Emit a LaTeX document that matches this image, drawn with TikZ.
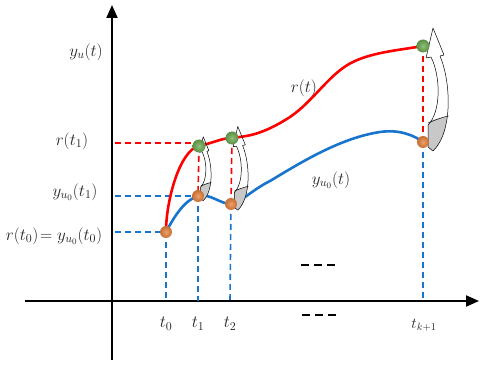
\documentclass[tikz,border=0pt]{standalone}
\usepackage{fix-cm}
\usetikzlibrary{arrows.meta,shadings}
\definecolor{myred}{HTML}{FF0000}
\definecolor{myblue}{HTML}{1874CD}
\definecolor{myorange}{HTML}{E8803A}
\definecolor{mygreen}{HTML}{6AA84F}
\definecolor{mygray}{HTML}{C8C8C8}
\begin{document}
\begin{tikzpicture}[x=1pt,y=-1pt,
  axis/.style={line width=2pt,-{Triangle[length=13pt,width=11pt]}},
  rdash/.style={myred,line width=1.6pt,dash pattern=on 6pt off 4pt},
  bdash/.style={myblue,line width=1.6pt,dash pattern=on 6pt off 4pt},
  rcurve/.style={myred,line width=2.6pt},
  bcurve/.style={myblue,line width=2.6pt},
  odot/.style={circle,inner sep=0pt,minimum size=12pt,inner color=myorange!75!white,outer color=myorange!85!black},
  gdot/.style={circle,inner sep=0pt,minimum size=13pt,inner color=mygreen!75!white,outer color=mygreen!85!black},
  lab/.style={font=\fontsize{17}{19}\selectfont,text=black!85,inner sep=1pt},
  dots/.style={line width=2pt,dash pattern=on 8pt off 5pt},
  carrow/.pic={
    \begin{scope}[yscale=-1]
      \begin{scope}
        \clip (17,86) .. controls (28,60) and (30,10) .. (10,-9) -- (5,-5) -- (5,17)
              .. controls (18,30) and (18,65) .. (8,85) -- cycle;
        \fill[white] (0,-20) rectangle (40,100);
        \fill[mygray] (0,-20) -- (0,19) .. controls (10,22) and (20,26) .. (40,28) -- (40,-20) -- cycle;
      \end{scope}
      \draw[line width=0.5pt,line join=round]
        (17,86) .. controls (28,60) and (30,10) .. (10,-9) -- (5,-5) -- (5,17)
        .. controls (18,30) and (18,65) .. (8,85) -- (3,84) -- (10,114) -- (21,87) -- cycle;
      \draw[line width=0.5pt] (5,19) .. controls (12,22) and (20,25) .. (25.5,26);
    \end{scope}
  }]
\useasboundingbox (0,0) rectangle (480,374);
% axes
\coordinate (yb) at (112,360);
\coordinate (yt) at (112,5);
\coordinate (xl) at (25,301);
\coordinate (xr) at (479,301);
\draw[axis] (yb) -- (yt);
\draw[axis] (xl) -- (xr);
% points (placed first so they can be referred to)
\path (166,232) coordinate (o0) (198,196) coordinate (o1) (199,146) coordinate (g1)
      (231,204) coordinate (o2) (232,138) coordinate (g2) (423,142) coordinate (ok) (423,46) coordinate (gk);
% projections
\coordinate (x0) at (166,301);
\coordinate (x1) at (198,301);
\coordinate (x2) at (230,301);
\coordinate (xk) at (423,301);
\coordinate (a0) at (115,232);
\coordinate (a1) at (115,196);
\coordinate (ar1) at (115,143);
\draw[bdash] (a0) -- (o0);
\draw[bdash] (a1) -- (o1);
\draw[rdash] (ar1) -- (ar1 -| g1);
\draw[bdash] (o0) -- (x0);
\draw[bdash] (o1) -- (x1);
\draw[bdash] (o2) -- (x2);
\draw[bdash] (ok) -- (xk);
\draw[rdash] (g1) -- (o1);
\draw[rdash] (g2) -- (o2);
\draw[rdash] (gk) -- (ok);
% curves
\draw[rcurve] (o0) .. controls (166,200) and (180,150) .. (g1)
  .. controls (213,143) and (222,138) .. (g2)
  .. controls (248,136) and (262,135) .. (290,117)
  .. controls (315,100) and (330,72) .. (355,61)
  .. controls (375,52) and (400,50) .. (gk);
\draw[bcurve] (o0) .. controls (175,215) and (185,200) .. (o1)
  .. controls (210,193) and (220,204) .. (o2)
  .. controls (240,203) and (252,190) .. (270,181)
  .. controls (300,163) and (340,138) .. (380,132)
  .. controls (400,129) and (415,136) .. (ok);
% curved arrows
\pic[scale=0.52] at (o1) {carrow};
\pic[scale=0.68] at (o2) {carrow};
\pic at (ok) {carrow};
% dots
\node[odot] (n0) at (o0) {};
\node[odot] (n1) at (o1) {};
\node[gdot] (m1) at (g1) {};
\node[odot] (n2) at (o2) {};
\node[gdot] (m2) at (g2) {};
\node[odot] (nk) at (ok) {};
\node[gdot] (mk) at (gk) {};
% labels
\node[lab] (ly) at (86,52) {$y_u(t)$};
\node[lab] (lr1) at (72,141) {$r(t_1)$};
\node[lab] (lyu1) at (75,192) {$y_{u_0}(t_1)$};
\node[lab] (lr0) at (54,236) {$r(t_0)\!=y_{u_0}(t_0)$};
\node[lab] (lr) at (304,88) {$r(t)$};
\node[lab] (lyu) at (331,180) {$y_{u_0}(t)$};
\node[lab] (lt0) at (166,324) {$t_0$};
\node[lab] (lt1) at (198,324) {$t_1$};
\node[lab] (lt2) at (230,324) {$t_2$};
\node[lab,font=\fontsize{15}{17}\selectfont] (ltk) at (424,325) {$t_{k+1}$};
% ellipses
\coordinate (da1) at (301,265);
\coordinate (da2) at (335,265);
\coordinate (db1) at (302,315);
\coordinate (db2) at (336,315);
\draw[dots] (da1) -- (da2);
\draw[dots] (db1) -- (db2);
\end{tikzpicture}
\end{document}
